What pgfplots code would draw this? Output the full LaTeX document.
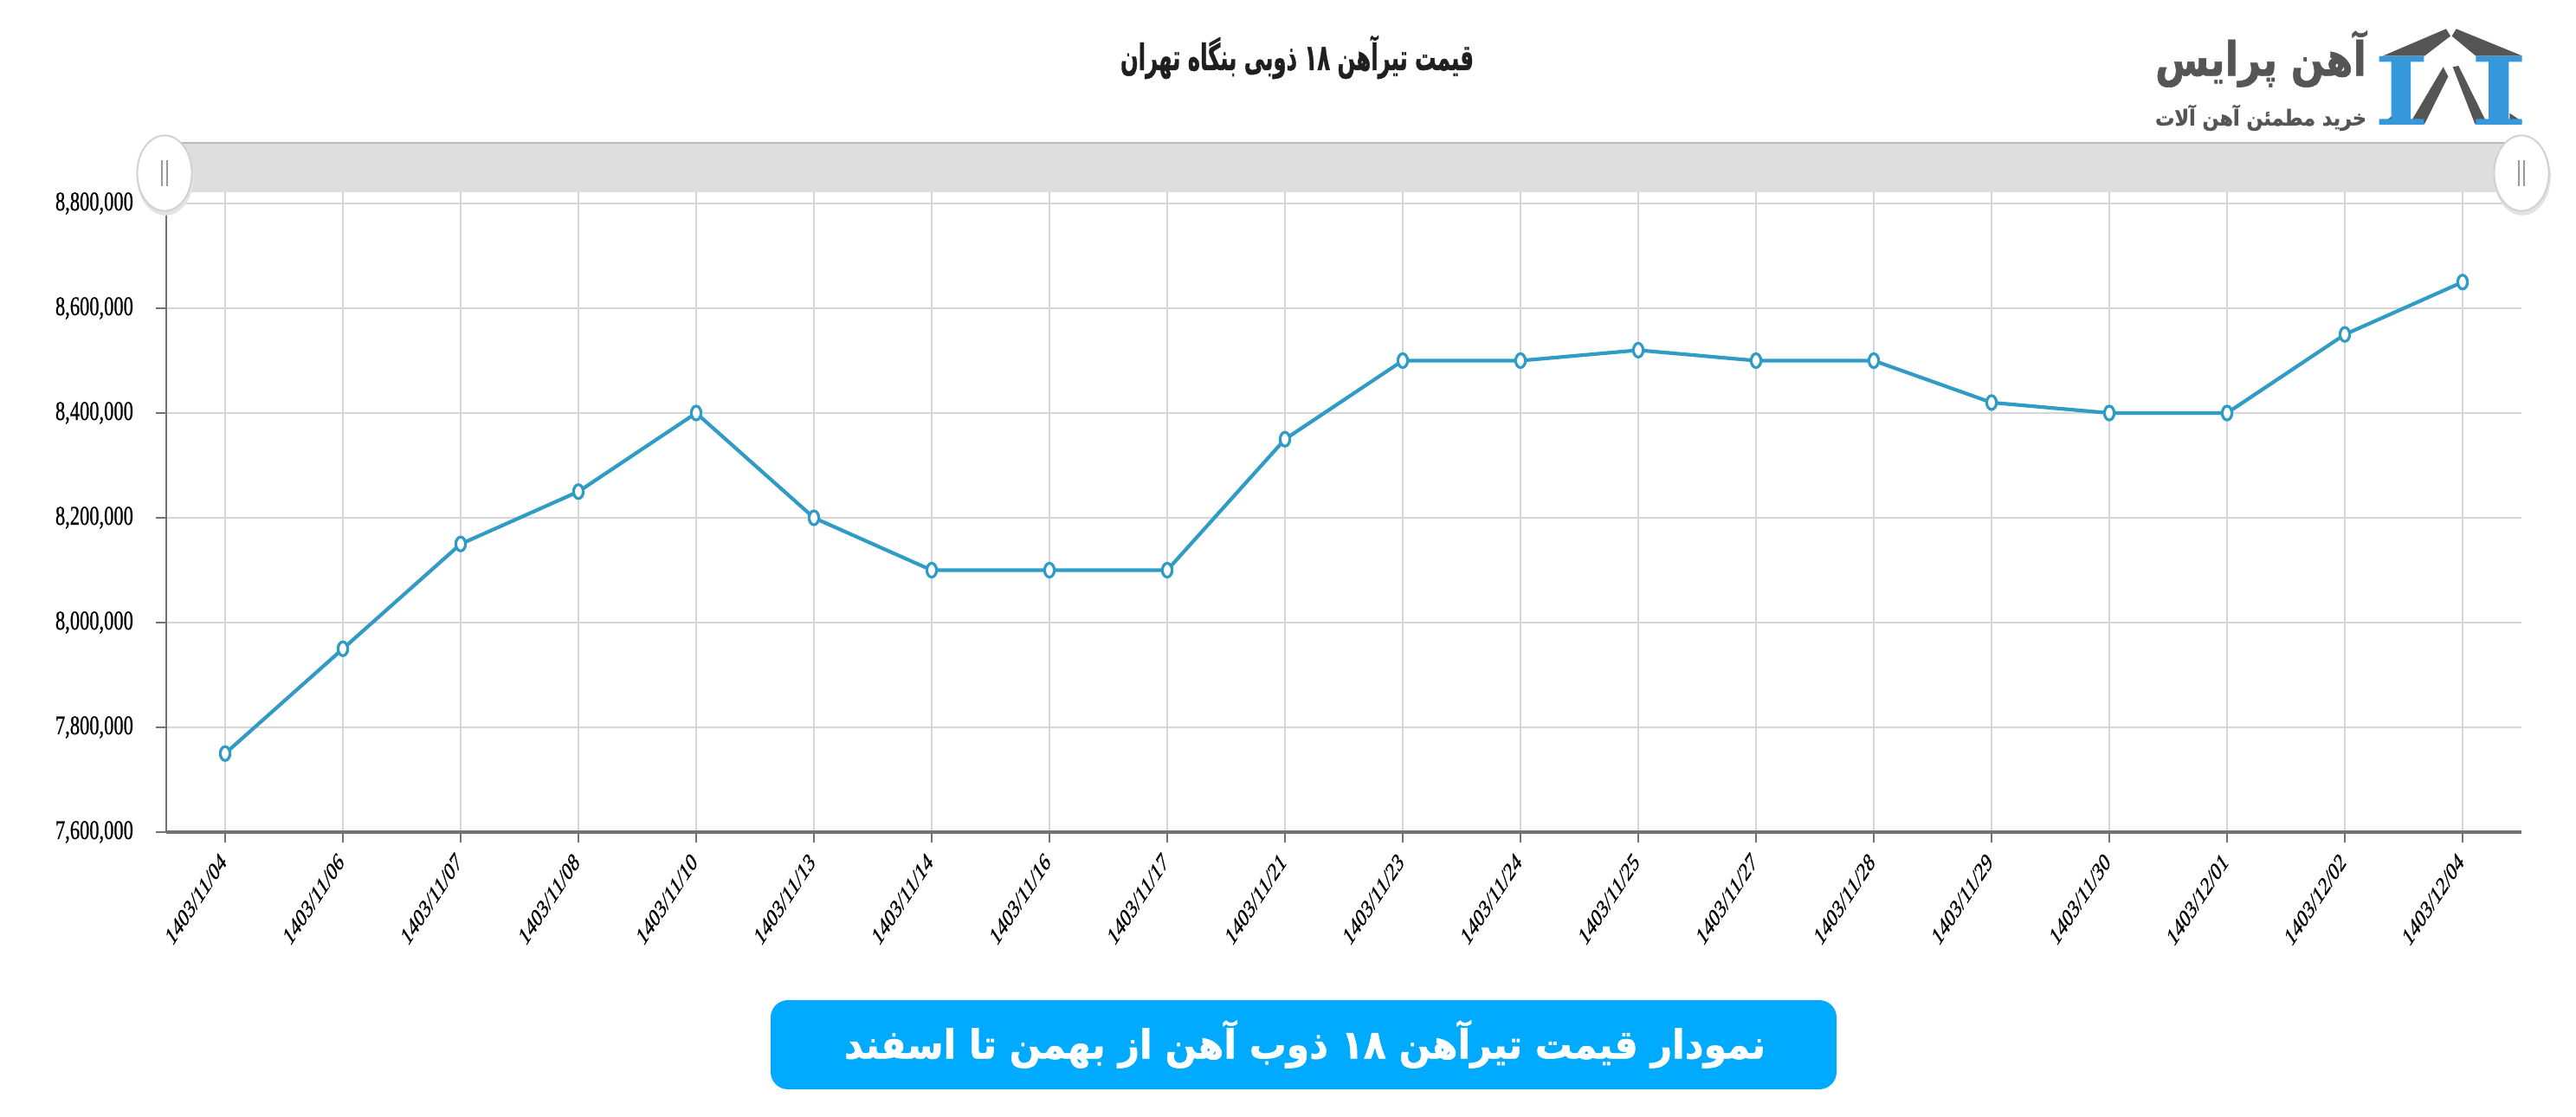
\documentclass[border=0pt]{standalone}
\usepackage{graphicx}
\usepackage{pgfplots}
\pgfplotsset{compat=1.18}
\usepackage{fontspec}
\TeXXeTstate=1
\setmainfont{Liberation Serif}
\newfontfamily\ytickfont[FakeStretch=0.72,FakeBold=0.7]{Liberation Serif}
\newfontfamily\xtickfont[FakeBold=0.8]{Liberation Serif}
\newfontfamily\fa[Script=Arabic]{DejaVu Sans}
\newfontfamily\fab[Script=Arabic,FakeBold=1.2]{DejaVu Sans Bold}
\definecolor{lineblue}{RGB}{48,156,198}
\definecolor{gridgray}{RGB}{214,214,214}
\definecolor{axisgray}{RGB}{115,115,115}
\definecolor{barcol}{RGB}{222,222,222}
\definecolor{bannerblue}{RGB}{0,170,255}
\definecolor{logoblue}{RGB}{52,152,219}
\definecolor{logogray}{RGB}{85,85,85}
\begin{document}
\begin{tikzpicture}
\path[use as bounding box] (0,0) rectangle (743.75pt,322.25pt);
\begin{axis}[
  at={(48pt,82pt)}, anchor=south west,
  scale only axis, width=680pt, height=184.75pt,
  xmin=-0.5, xmax=19.5, ymin=7600000, ymax=8821500,
  xtick={0,...,19},
  xticklabels={1403/11/04,1403/11/06,1403/11/07,1403/11/08,1403/11/10,1403/11/13,1403/11/14,1403/11/16,1403/11/17,1403/11/21,1403/11/23,1403/11/24,1403/11/25,1403/11/27,1403/11/28,1403/11/29,1403/11/30,1403/12/01,1403/12/02,1403/12/04},
  ytick={7600000,7800000,8000000,8200000,8400000,8600000,8800000},
  yticklabels={{7,600,000},{7,800,000},{8,000,000},{8,200,000},{8,400,000},{8,600,000},{8,800,000}},
  scaled y ticks=false,
  axis x line*=bottom, axis y line*=left,
  x axis line style={draw=axisgray, line width=1.2pt, -},
  y axis line style={draw=axisgray, line width=0.5pt, -},
  tick align=outside,
  major tick length=3pt,
  tick style={draw=axisgray, line width=0.5pt},
  grid=major, major grid style={draw=gridgray, line width=0.5pt},
  xticklabel style={font=\xtickfont\fontsize{7.5}{9}\selectfont, anchor=east, inner sep=1pt, yshift=-3.5pt, cm={0.467,0.707,-0.467,0.707,(0,0)}},
  yticklabel style={font=\ytickfont\fontsize{7.8}{9}\selectfont, xshift=-3pt},
  clip=false,
]
\addplot[color=lineblue, line width=1.05pt, mark=*, mark size=2pt,
  mark options={fill=white, draw=lineblue, line width=0.8pt, xscale=0.7}]
coordinates {
(0,7750000) (1,7950000) (2,8150000) (3,8250000) (4,8400000)
(5,8200000) (6,8100000) (7,8100000) (8,8100000) (9,8350000)
(10,8500000) (11,8500000) (12,8520000) (13,8500000) (14,8500000)
(15,8420000) (16,8400000) (17,8400000) (18,8550000) (19,8650000)
};
\end{axis}
% scrollbar and handles (px coordinates from top)
\begin{scope}[shift={(0pt,322.25pt)}, x=0.25pt, y=-0.25pt]
\fill[barcol] (190,165) rectangle (2912,222);
\draw[gray!55, line width=0.6pt] (190,165) -- (2912,165);
\foreach \hx in {190,2912}{
  \fill[gray!22] (\hx+1,204) ellipse [x radius=8.2pt, y radius=11.2pt];
  \filldraw[fill=white, draw=gray!35, line width=0.5pt] (\hx,200) ellipse [x radius=7.9pt, y radius=10.9pt];
  \draw[gray!80, line width=0.45pt] (\hx-3,185) -- (\hx-3,215) (\hx+3,185) -- (\hx+3,215);
}
% title
\node[font=\fab, text=black!88, inner sep=0pt] at (1498,66) {\resizebox{102pt}{10pt}{\beginR قیمت تیرآهن ۱۸ ذوبی بنگاه تهران\endR}};
% logo text
\node[font=\fab, text=logogray, inner sep=0pt] at (2611,68) {\resizebox{61pt}{13pt}{\beginR آهن پرایس\endR}};
\node[font=\fab, text=logogray, inner sep=0pt] at (2611,136) {\resizebox{61pt}{6pt}{\beginR خرید مطمئن آهن آلات\endR}};
% banner
\fill[bannerblue, rounded corners=5pt] (890,1155) rectangle (2121,1258);
\node[font=\fab, text=white, inner sep=0pt] at (1507,1206) {\resizebox{266pt}{11pt}{\beginR نمودار قیمت تیرآهن ۱۸ ذوب آهن از بهمن تا اسفند\endR}};
\end{scope}
% logo icon, zoom coordinates
\begin{scope}[shift={(612.5pt,322.25pt)}, x=0.083333pt, y=-0.083333pt]
\fill[logogray] (905,194) -- (1125,100) -- (1140,125) -- (1050,194) -- cycle;
\fill[logogray] (1160,100) -- (1390,194) -- (1228,194) -- (1145,125) -- cycle;
\fill[logogray] (998,430) -- (1115,232) -- (1132,265) -- (1050,430) -- cycle;
\fill[logogray] (1148,232) -- (1168,228) -- (1268,430) -- (1225,430) -- cycle;
\fill[logogray] (912,422) -- (950,392) -- (950,428) -- cycle;
\fill[logogray] (1345,392) -- (1390,422) -- (1345,428) -- cycle;
\fill[logoblue] (893,195) rectangle (1048,214) (935,214) rectangle (1002,412) (893,412) rectangle (1048,432);
\fill[logoblue] (1228,195) rectangle (1388,214) (1272,214) rectangle (1342,412) (1228,412) rectangle (1388,432);
\end{scope}
\end{tikzpicture}
\end{document}
